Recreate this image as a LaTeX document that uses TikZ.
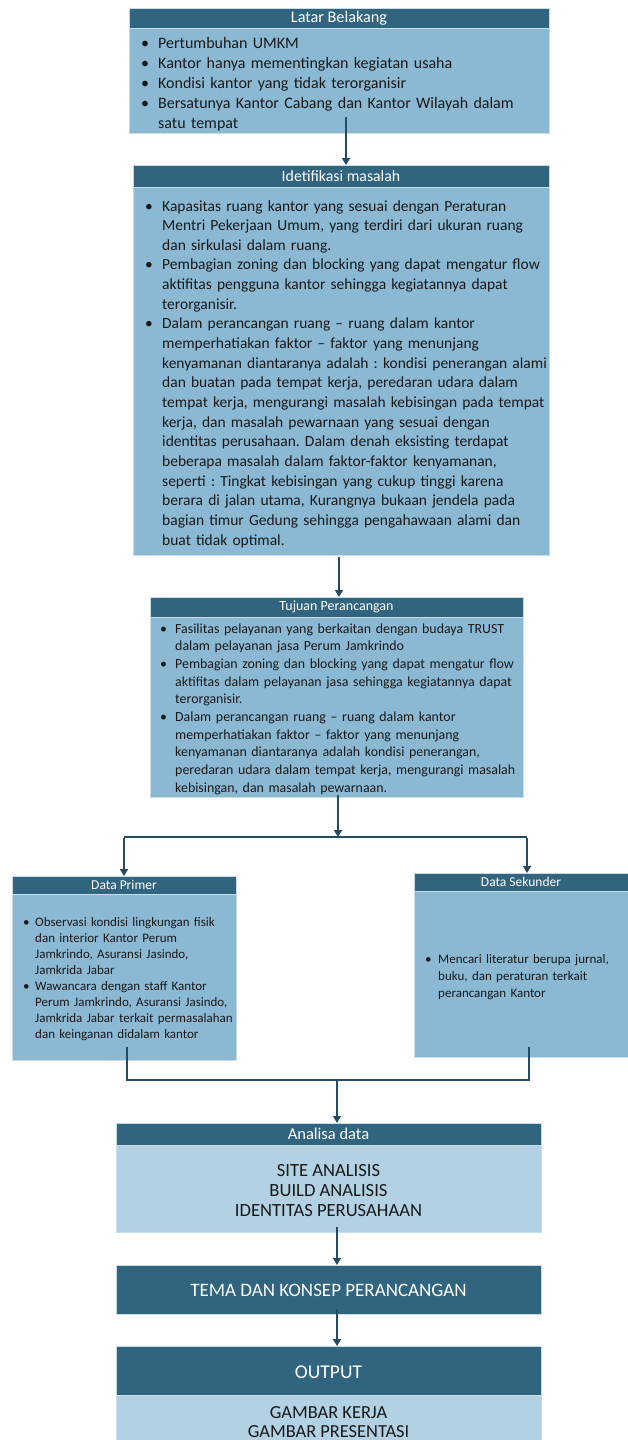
\documentclass[tikz,border=0pt]{standalone}
\usepackage{fontspec}
\setmainfont{Carlito}
\frenchspacing
\usetikzlibrary{arrows.meta}
\definecolor{hdr}{HTML}{31657F}
\definecolor{bdy}{HTML}{8BB9D4}
\definecolor{lbdy}{HTML}{B2D1E3}
\definecolor{arr}{HTML}{244B62}
\definecolor{edge}{HTML}{C9DCE8}
\newlength\bulind
\newcommand{\itmf}{\hangindent=\bulind\hangafter=1\noindent\hbox to \bulind{\textbullet\hss}}
\newcommand{\itm}{\par\itmf}
\tikzset{
  hdrbox/.style={fill=hdr, draw=edge, line width=0.5pt, anchor=north west, inner sep=0pt, text=white},
  bdybox/.style={fill=bdy, draw=edge, line width=0.5pt, anchor=north west, inner sep=0pt},
  lbox/.style={fill=lbdy, draw=edge, line width=0.5pt, anchor=north west, inner sep=0pt},
  htext/.style={text=white, inner sep=0pt, anchor=center},
  ctext/.style={anchor=base, inner sep=0pt, text=black!90},
  btext/.style={anchor=base west, inner sep=0pt, text width=#1, align=left, text=black!90, font=\frenchspacing},
  conn/.style={draw=arr, line width=2pt},
  arrow/.style={conn, -{Triangle[width=8pt,length=7pt]}},
}
\begin{document}
\begin{tikzpicture}[x=1pt,y=-1pt]
\useasboundingbox (0,0) rectangle (628,1440);
% ---------- Latar Belakang
\node[hdrbox, minimum width=420pt, minimum height=20pt] (lbh) at (129,8) {};
\node[bdybox, minimum width=420pt, minimum height=105pt] (lbb) at (129,28) {};
\node[htext, font=\fontsize{16.2}{18}\selectfont] (lbt) at (339,18) {Latar Belakang};
\node[btext=420pt, font=\fontsize{16}{20}\selectfont] (lbx) at (141,48) {\frenchspacing\setlength\bulind{17pt}%
\itmf Pertumbuhan UMKM
\itm Kantor hanya mementingkan kegiatan usaha
\itm Kondisi kantor yang tidak terorganisir
\itm Bersatunya Kantor Cabang dan Kantor Wilayah dalam\newline satu tempat\par};
% ---------- Idetifikasi masalah
\node[hdrbox, minimum width=416pt, minimum height=22pt] (idh) at (133,165) {};
\node[bdybox, minimum width=416pt, minimum height=368pt] (idb) at (133,187) {};
\node[htext, font=\fontsize{15.8}{17}\selectfont] (idt) at (341,176) {Idetifikasi masalah};
\node[btext=420pt, font=\fontsize{15.5}{19.65}\selectfont] (idx) at (145,211) {\frenchspacing\setlength\bulind{17pt}%
\itmf Kapasitas ruang kantor yang sesuai dengan Peraturan\newline Mentri Pekerjaan Umum, yang terdiri dari ukuran ruang\newline dan sirkulasi dalam ruang.
\itm Pembagian zoning dan blocking yang dapat mengatur flow\newline aktifitas pengguna kantor sehingga kegiatannya dapat\newline terorganisir.
\itm Dalam perancangan ruang -- ruang dalam kantor\newline memperhatiakan faktor -- faktor yang menunjang\newline kenyamanan diantaranya adalah : kondisi penerangan alami\newline dan buatan pada tempat kerja, peredaran udara dalam\newline tempat kerja, mengurangi masalah kebisingan pada tempat\newline kerja, dan masalah pewarnaan yang sesuai dengan\newline identitas perusahaan. Dalam denah eksisting terdapat\newline beberapa masalah dalam faktor-faktor kenyamanan,\newline seperti : Tingkat kebisingan yang cukup tinggi karena\newline berara di jalan utama, Kurangnya bukaan jendela pada\newline bagian timur Gedung sehingga pengahawaan alami dan\newline buat tidak optimal.\par};
% ---------- Tujuan Perancangan
\node[hdrbox, minimum width=373pt, minimum height=20pt] (tph) at (150,597) {};
\node[bdybox, minimum width=373pt, minimum height=180pt] (tpb) at (150,617) {};
\node[htext, font=\fontsize{14}{16}\selectfont] (tpt) at (336.5,607) {Tujuan Perancangan};
\node[btext=380pt, font=\fontsize{13.9}{17.7}\selectfont] (tpx) at (160,633) {\frenchspacing\setlength\bulind{15pt}%
\itmf Fasilitas pelayanan yang berkaitan dengan budaya TRUST\newline dalam pelayanan jasa Perum Jamkrindo
\itm Pembagian zoning dan blocking yang dapat mengatur flow\newline aktifitas dalam pelayanan jasa sehingga kegiatannya dapat\newline terorganisir.
\itm Dalam perancangan ruang -- ruang dalam kantor\newline memperhatiakan faktor -- faktor yang menunjang\newline kenyamanan diantaranya adalah kondisi penerangan,\newline peredaran udara dalam tempat kerja, mengurangi masalah\newline kebisingan, dan masalah pewarnaan.\par};
% ---------- Data Primer
\node[hdrbox, minimum width=224pt, minimum height=18pt] (dph) at (12,876) {};
\node[bdybox, minimum width=224pt, minimum height=166pt] (dpb) at (12,894) {};
\node[htext, font=\fontsize{13.5}{15}\selectfont] (dpt) at (124,885) {Data Primer};
\node[btext=230pt, font=\fontsize{13}{16}\selectfont] (dpx) at (23,926) {\frenchspacing\setlength\bulind{12pt}%
\itmf Observasi kondisi lingkungan fisik\newline dan interior Kantor Perum\newline Jamkrindo, Asuransi Jasindo,\newline Jamkrida Jabar
\itm Wawancara dengan staff Kantor\newline Perum Jamkrindo, Asuransi Jasindo,\newline Jamkrida Jabar terkait permasalahan\newline dan keinganan didalam kantor\par};
% ---------- Data Sekunder
\node[hdrbox, minimum width=215pt, minimum height=18pt] (dsh) at (414,873) {};
\node[bdybox, minimum width=215pt, minimum height=166pt] (dsb) at (414,891) {};
\node[htext, font=\fontsize{13.5}{15}\selectfont] (dst) at (521,882) {Data Sekunder};
\node[btext=210pt, font=\fontsize{13}{17}\selectfont] (dsx) at (425,963) {\frenchspacing\setlength\bulind{13pt}%
\itmf Mencari literatur berupa jurnal,\newline buku, dan peraturan terkait\newline perancangan Kantor\par};
% ---------- Analisa data
\node[hdrbox, minimum width=425pt, minimum height=22pt] (anh) at (116,1123) {};
\node[lbox, minimum width=425pt, minimum height=87pt] (anb) at (116,1145) {};
\node[htext, font=\fontsize{16.5}{18}\selectfont] (ant) at (328.5,1134) {Analisa data};
\node[ctext, font=\fontsize{18.6}{20}\selectfont] (an1) at (328.5,1176) {SITE ANALISIS};
\node[ctext, font=\fontsize{18.6}{20}\selectfont] (an2) at (328.5,1196) {BUILD ANALISIS};
\node[ctext, font=\fontsize{18.6}{20}\selectfont] (an3) at (328.5,1216) {IDENTITAS PERUSAHAAN};
% ---------- Tema
\node[hdrbox, minimum width=425pt, minimum height=49pt] (tmb) at (116,1265) {};
\node[htext, font=\fontsize{19}{21}\selectfont] (tmt) at (328.5,1290) {TEMA DAN KONSEP PERANCANGAN};
% ---------- Output
\node[hdrbox, minimum width=425pt, minimum height=49pt] (oph) at (116,1346) {};
\node[lbox, minimum width=425pt, minimum height=50pt] (opb) at (116,1395) {};
\node[htext, font=\fontsize{19.5}{21}\selectfont] (opt) at (328.5,1372) {OUTPUT};
\node[ctext, font=\fontsize{18.4}{20}\selectfont] (op1) at (328.5,1418) {GAMBAR KERJA};
\node[ctext, font=\fontsize{18.4}{20}\selectfont] (op2) at (328.5,1437) {GAMBAR PRESENTASI};
% ---------- connectors
\coordinate (c1) at (346,117);
\draw[arrow] (c1) -- (c1 |- idh.north);
\coordinate (c2) at (339,557);
\draw[arrow] (c2) -- (c2 |- tph.north);
\coordinate (c3) at (338,795);
\coordinate (j1) at (338,837);
\coordinate (jl) at (124,837);
\coordinate (jr) at (527,837);
\draw[conn] (jl) -- (jr);
\draw[arrow] (c3) -- (j1);
\draw[arrow] ([yshift=-1pt]jl) -- (jl |- dph.north);
\draw[arrow] ([yshift=-1pt]jr) -- (jr |- dsh.north);
\coordinate (dpo) at (127,1047);
\coordinate (dso) at (529,1047);
\coordinate (j2l) at (127,1080);
\coordinate (j2r) at (529,1080);
\coordinate (j2) at (337,1080);
\draw[conn] (dpo) -- (j2l) -- (j2r) -- (dso);
\draw[arrow] (j2) -- (j2 |- anh.north);
\coordinate (c5) at (337,1227);
\draw[arrow] (c5) -- (c5 |- tmb.north);
\coordinate (c6) at (337,1309);
\draw[arrow] (c6) -- (c6 |- oph.north);
\end{tikzpicture}
\end{document}
